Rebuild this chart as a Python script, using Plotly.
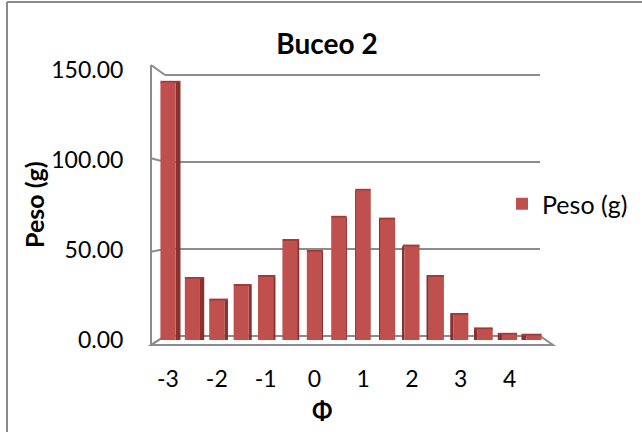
import plotly.graph_objects as go

# ---- data ----
phi = [-3, -2.5, -2, -1.5, -1, -0.5, 0, 0.5, 1, 1.5, 2, 2.5, 3, 3.5, 4, 4.5]
peso = [143, 34, 22, 30, 35, 55, 49, 68, 83, 67, 52, 35, 14, 6, 3, 2.5]
x_tick_vals = [-3, -2, -1, 0, 1, 2, 3, 4]
x_tick_text = ["-3", "-2", "-1", "0", "1", "2", "3", "4"]
y_tick_vals = [0, 50, 100, 150]
y_tick_text = ["0.00", "50.00", "100.00", "150.00"]

W, H = 642, 432
FONT = "Lato"
RED = "#C0504D"
DARK = "#8A312E"
TOP = "#9E3C39"
GRID = "#8C8C8C"

def px(x):
    return x / W

def py(y):
    return 1 - y / H

# perspective of the 3-D walls (pixel geometry of the decoration)
def front_y(v):
    return 345 - v * (280 / 150)

def back_y(v):
    return 336 - v * (261 / 150)

# side / top faces of the 3-D columns
bw = 0.31
centre = 0.75
k = 0.027
side_w = [max(k * abs(x - centre), 0.001) for x in phi]
side_off = [bw / 2 if x < centre else -bw / 2 - s for x, s in zip(phi, side_w)]
top_w = [bw + s for s in side_w]
top_off = [-bw / 2 if x < centre else -bw / 2 - s for x, s in zip(phi, side_w)]
top_h = [1.0] * len(phi)

fig = go.Figure()
fig.add_trace(go.Bar(
    x=phi, y=peso, width=side_w, offset=side_off,
    marker=dict(color=DARK, line=dict(width=0)), showlegend=False, hoverinfo="skip",
))
fig.add_trace(go.Bar(
    x=phi, y=top_h, base=peso, width=top_w, offset=top_off,
    marker=dict(color=TOP, line=dict(width=0)), showlegend=False, hoverinfo="skip",
))
fig.add_trace(go.Bar(
    x=phi, y=peso, width=bw, name="Peso (g)",
    marker=dict(color=RED, line=dict(width=0)),
))

shapes = []
line = dict(color=GRID, width=2)
# left wall
shapes.append(dict(type="line", xref="paper", yref="paper",
                   x0=px(151), y0=py(front_y(0)), x1=px(151), y1=py(front_y(150)), line=line))
for v in y_tick_vals:
    shapes.append(dict(type="line", xref="paper", yref="paper",
                       x0=px(151), y0=py(front_y(v)), x1=px(165), y1=py(back_y(v)), line=line))
    if v > 0:
        shapes.append(dict(type="line", xref="paper", yref="paper",
                           x0=px(165), y0=py(back_y(v)), x1=px(540), y1=py(back_y(v)), line=line))
# floor
shapes.append(dict(type="path", xref="paper", yref="paper",
                   path=f"M{px(151)},{py(345)} L{px(553)},{py(345)} L{px(540)},{py(336)} L{px(165)},{py(336)} Z",
                   line=line, fillcolor="rgba(0,0,0,0)"))
# chart border
shapes.append(dict(type="line", xref="paper", yref="paper",
                   x0=px(7), y0=py(2), x1=px(7), y1=0, line=dict(color="#8A8A8A", width=2)))
shapes.append(dict(type="line", xref="paper", yref="paper",
                   x0=px(7), y0=py(2), x1=1, y1=py(2), line=dict(color="#8A8A8A", width=2)))
for s in shapes:
    s.setdefault("layer", "below")

fig.update_layout(
    width=W, height=H,
    margin=dict(l=0, r=0, t=0, b=0),
    template="none",
    paper_bgcolor="white",
    plot_bgcolor="rgba(0,0,0,0)",
    font=dict(family=FONT, size=23, color="black"),
    barmode="overlay",
    shapes=shapes,
    title=dict(text="Buceo 2", x=px(327), y=py(44), xanchor="center", yanchor="middle",
               font=dict(family=FONT, size=28, weight="bold", color="black")),
    xaxis=dict(domain=[px(151), px(545)], range=[-3.348, 4.726], tickmode="array",
               tickvals=x_tick_vals, ticktext=x_tick_text, ticks="outside", ticklen=18,
               tickcolor="rgba(0,0,0,0)", showgrid=False, zeroline=False, showline=False,
               automargin=False, tickfont=dict(size=23)),
    yaxis=dict(domain=[py(340), py(70)], range=[0, 150], tickmode="array",
               tickvals=y_tick_vals, ticktext=y_tick_text, ticks="outside", ticklen=22,
               tickcolor="rgba(0,0,0,0)", showgrid=False, zeroline=False, showline=False,
               automargin=False, tickfont=dict(size=23)),
    legend=dict(x=px(502), y=py(204), xanchor="left", yanchor="middle",
                font=dict(size=25), bgcolor="rgba(0,0,0,0)"),
    annotations=[
        dict(text="Peso (g)", x=px(34), y=py(205), xref="paper", yref="paper",
             textangle=-90, showarrow=False, xanchor="center", yanchor="middle",
             font=dict(family=FONT, size=25, weight="bold")),
        dict(text="Φ", x=px(322), y=py(410), xref="paper", yref="paper",
             showarrow=False, xanchor="center", yanchor="middle",
             font=dict(family=FONT, size=24, weight="bold")),
    ],
)

fig.write_html("out.html", config={"displayModeBar": False},
               post_script="document.body.style.margin='0';")
